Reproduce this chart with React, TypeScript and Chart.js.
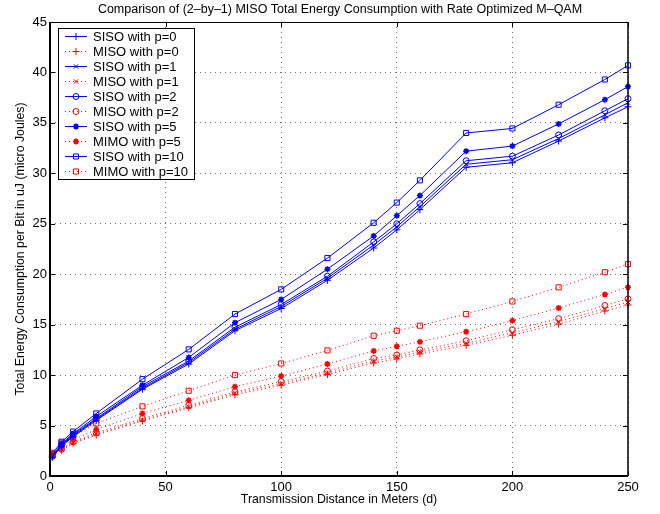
import React, { useEffect, useRef } from "react";
import { Chart, registerables } from "chart.js";

Chart.register(...registerables);

// ---------- DATA ----------
const distances = [1, 5, 10, 20, 40, 60, 80, 100, 120, 140, 150, 160, 180, 200, 220, 240, 250];

const sisoP0 = [1.85, 2.95, 3.9, 5.5, 8.6, 11.1, 14.4, 16.6, 19.4, 22.6, 24.4, 26.4, 30.6, 31.05, 33.2, 35.5, 36.6];
const misoP0 = [2.0, 2.55, 3.25, 4.05, 5.45, 6.75, 8.05, 9.0, 10.05, 11.2, 11.6, 12.1, 12.95, 13.95, 15.05, 16.35, 16.95];
const sisoP1 = [1.9, 3.0, 4.0, 5.6, 8.7, 11.25, 14.55, 16.8, 19.6, 22.9, 24.7, 26.7, 30.9, 31.35, 33.45, 35.8, 37.0];
const misoP1 = [2.05, 2.6, 3.3, 4.15, 5.55, 6.85, 8.2, 9.15, 10.2, 11.4, 11.8, 12.3, 13.15, 14.2, 15.3, 16.6, 17.25];
const sisoP2 = [1.95, 3.1, 4.1, 5.7, 8.85, 11.4, 14.75, 17.0, 19.8, 23.2, 25.0, 27.0, 31.25, 31.7, 33.8, 36.2, 37.4];
const misoP2 = [2.1, 2.65, 3.4, 4.3, 5.7, 7.0, 8.35, 9.35, 10.4, 11.65, 12.0, 12.5, 13.4, 14.5, 15.6, 16.9, 17.55];
const sisoP5 = [2.0, 3.2, 4.2, 5.9, 9.0, 11.75, 15.2, 17.5, 20.5, 23.8, 25.8, 27.8, 32.2, 32.7, 34.9, 37.3, 38.6];
const mimoP5 = [2.15, 2.85, 3.6, 4.6, 6.2, 7.5, 8.85, 9.9, 11.1, 12.4, 12.85, 13.3, 14.3, 15.4, 16.65, 18.0, 18.7];
const sisoP10 = [2.2, 3.4, 4.4, 6.2, 9.6, 12.55, 16.05, 18.5, 21.6, 25.1, 27.1, 29.3, 34.0, 34.45, 36.8, 39.3, 40.7];
const mimoP10 = [2.3, 3.3, 3.95, 5.2, 6.9, 8.45, 10.0, 11.15, 12.45, 13.9, 14.4, 14.9, 16.05, 17.3, 18.7, 20.2, 21.0];

const seriesLabels = [
  "SISO with p=0",
  "MISO with p=0",
  "SISO with p=1",
  "MISO with p=1",
  "SISO with p=2",
  "MISO with p=2",
  "SISO with p=5",
  "MIMO with p=5",
  "SISO with p=10",
  "MIMO with p=10",
];
const seriesValues = [sisoP0, misoP0, sisoP1, misoP1, sisoP2, misoP2, sisoP5, mimoP5, sisoP10, mimoP10];

const xTickValues = [0, 50, 100, 150, 200, 250];
const yTickValues = [0, 5, 10, 15, 20, 25, 30, 35, 40, 45];

const chartTitle = "Comparison of (2\u2013by\u20131) MISO Total Energy Consumption with Rate Optimized M\u2013QAM";
const xAxisTitle = "Transmission Distance in Meters (d)";
const yAxisTitle = "Total Energy Consumption per Bit in uJ (micro Joules)";

// ---------- STYLES ----------
const BLUE = "#0000ff";
const RED = "#ff0000";
const FONT = "'Liberation Sans', Arial, Helvetica, sans-serif";
const markers = ["cross", "cross", "crossRot", "crossRot", "circle", "circle", "star", "star", "rect", "rect"];
const radii = [3.5, 3.5, 3, 3, 3, 3, 3, 3, 3.6, 3.6];

function drawMarker(ctx: CanvasRenderingContext2D, style: string, x: number, y: number, r: number, color: string) {
  ctx.save();
  ctx.setLineDash([]);
  ctx.strokeStyle = color;
  ctx.fillStyle = color;
  ctx.lineWidth = 1;
  ctx.beginPath();
  if (style === "cross") {
    ctx.moveTo(x - r, y);
    ctx.lineTo(x + r, y);
    ctx.moveTo(x, y - r);
    ctx.lineTo(x, y + r);
  } else if (style === "crossRot") {
    const d = r * Math.SQRT1_2;
    ctx.moveTo(x - d, y - d);
    ctx.lineTo(x + d, y + d);
    ctx.moveTo(x - d, y + d);
    ctx.lineTo(x + d, y - d);
  } else if (style === "circle") {
    ctx.arc(x, y, r, 0, Math.PI * 2);
  } else if (style === "star") {
    const d = r * Math.SQRT1_2;
    ctx.moveTo(x - r, y);
    ctx.lineTo(x + r, y);
    ctx.moveTo(x, y - r);
    ctx.lineTo(x, y + r);
    ctx.moveTo(x - d, y - d);
    ctx.lineTo(x + d, y + d);
    ctx.moveTo(x - d, y + d);
    ctx.lineTo(x + d, y - d);
    ctx.lineWidth = 1.5;
  } else if (style === "rect") {
    const s = r * Math.SQRT1_2;
    ctx.rect(x - s, y - s, 2 * s, 2 * s);
  }
  ctx.stroke();
  ctx.restore();
}

const decorPlugin = {
  id: "matlabDecor",
  afterDraw(chart: any) {
    const { ctx, chartArea } = chart;
    const { left, right, top, bottom } = chartArea;
    const xs = chart.scales.x;
    const ys = chart.scales.y;
    ctx.save();
    ctx.setLineDash([]);
    ctx.strokeStyle = "#000";
    // inward ticks
    ctx.lineWidth = 1;
    ctx.beginPath();
    const tl = 5;
    xTickValues.forEach((v) => {
      const px = Math.round(xs.getPixelForValue(v)) + 0.5;
      ctx.moveTo(px, bottom);
      ctx.lineTo(px, bottom - tl);
      ctx.moveTo(px, top);
      ctx.lineTo(px, top + tl);
    });
    yTickValues.forEach((v) => {
      const py = Math.round(ys.getPixelForValue(v)) + 0.5;
      ctx.moveTo(left, py);
      ctx.lineTo(left + tl, py);
      ctx.moveTo(right, py);
      ctx.lineTo(right - tl, py);
    });
    ctx.stroke();
    // box
    ctx.lineWidth = 1;
    ctx.beginPath();
    ctx.moveTo(left, top + 0.5);
    ctx.lineTo(right, top + 0.5);
    ctx.stroke();
    ctx.lineWidth = 1.5;
    ctx.beginPath();
    ctx.moveTo(right, top);
    ctx.lineTo(right, bottom);
    ctx.stroke();
    ctx.lineWidth = 2;
    ctx.beginPath();
    ctx.moveTo(left, top);
    ctx.lineTo(left, bottom);
    ctx.lineTo(right, bottom);
    ctx.stroke();

    // title
    ctx.fillStyle = "#000";
    ctx.font = `12.5px ${FONT}`;
    ctx.textAlign = "center";
    ctx.textBaseline = "middle";
    ctx.fillText(chartTitle, 340, 10);

    // legend
    const bx = 58, by = 28, bw = 136, bh = 151;
    ctx.fillStyle = "#fff";
    ctx.fillRect(bx, by, bw, bh);
    ctx.lineWidth = 1;
    ctx.strokeStyle = "#000";
    ctx.strokeRect(bx + 0.5, by + 0.5, bw, bh);
    ctx.font = `13px ${FONT}`;
    ctx.textAlign = "left";
    ctx.textBaseline = "middle";
    chart.data.datasets.forEach((ds: any, i: number) => {
      const y = by + 8 + i * 15;
      ctx.save();
      ctx.strokeStyle = ds.borderColor;
      ctx.lineWidth = 1;
      ctx.setLineDash(ds.borderDash || []);
      ctx.beginPath();
      ctx.moveTo(65, y + 0.5);
      ctx.lineTo(87, y + 0.5);
      ctx.stroke();
      ctx.restore();
      drawMarker(ctx, ds.pointStyle, 76, y + 0.5, ds.pointRadius, ds.borderColor);
      ctx.fillStyle = "#000";
      ctx.fillText(ds.label, 93, y + 1);
    });
    ctx.restore();
  },
};

export default function App() {
  const canvasRef = useRef<HTMLCanvasElement | null>(null);

  useEffect(() => {
    document.body.style.margin = "0";
    const canvas = canvasRef.current;
    if (!canvas) return;
    const datasets = seriesLabels.map((label, i) => {
      const isSiso = i % 2 === 0;
      const color = isSiso ? BLUE : RED;
      return {
        label,
        data: distances.map((d, j) => ({ x: d, y: seriesValues[i][j] })),
        borderColor: color,
        backgroundColor: color,
        borderWidth: 1,
        borderDash: isSiso ? [] : [1, 3],
        pointStyle: markers[i],
        pointRadius: radii[i],
        pointBorderWidth: markers[i] === "star" ? 1.5 : 1,
        pointBackgroundColor: markers[i] === "star" ? color : "rgba(0,0,0,0)",
        pointBorderColor: color,
        tension: 0,
        fill: false,
        clip: false as any,
      };
    });

    const chart = new Chart(canvas, {
      type: "line",
      data: { datasets },
      options: {
        responsive: false,
        animation: false,
        devicePixelRatio: 1,
        layout: { padding: { top: 22, right: 32, left: 0, bottom: 0 } },
        plugins: {
          legend: { display: false },
          title: { display: false },
          tooltip: { enabled: false },
        },
        scales: {
          x: {
            type: "linear",
            min: 0,
            max: 250,
            afterBuildTicks: (scale: any) => {
              scale.ticks = xTickValues.map((v) => ({ value: v }));
            },
            afterFit: (scale: any) => {
              scale.height = 38;
            },
            ticks: {
              color: "#000",
              font: { family: FONT, size: 13 },
              padding: 4,
              maxRotation: 0,
            },
            grid: { color: "rgba(0,0,0,0.55)", lineWidth: 1, drawTicks: false, tickLength: 0 },
            border: { display: false, dash: [1, 4] },
            title: {
              display: true,
              text: xAxisTitle,
              color: "#000",
              font: { family: FONT, size: 12.3 },
              padding: { top: 0, bottom: 7 },
            },
          },
          y: {
            type: "linear",
            min: 0,
            max: 45,
            afterBuildTicks: (scale: any) => {
              scale.ticks = yTickValues.map((v) => ({ value: v }));
            },
            afterFit: (scale: any) => {
              scale.width = 50;
            },
            ticks: {
              color: "#000",
              font: { family: FONT, size: 13 },
              padding: 3,
            },
            grid: { color: "rgba(0,0,0,0.55)", lineWidth: 1, drawTicks: false, tickLength: 0 },
            border: { display: false, dash: [1, 4] },
            title: {
              display: true,
              text: yAxisTitle,
              color: "#000",
              font: { family: FONT, size: 12.3 },
              padding: { top: 13, bottom: 0 },
            },
          },
        },
      },
      plugins: [decorPlugin],
    } as any);

    return () => chart.destroy();
  }, []);

  return (
    <div style={{ width: 660, height: 514 }}>
      <canvas ref={canvasRef} width={660} height={514} style={{ display: "block" }} />
    </div>
  );
}
